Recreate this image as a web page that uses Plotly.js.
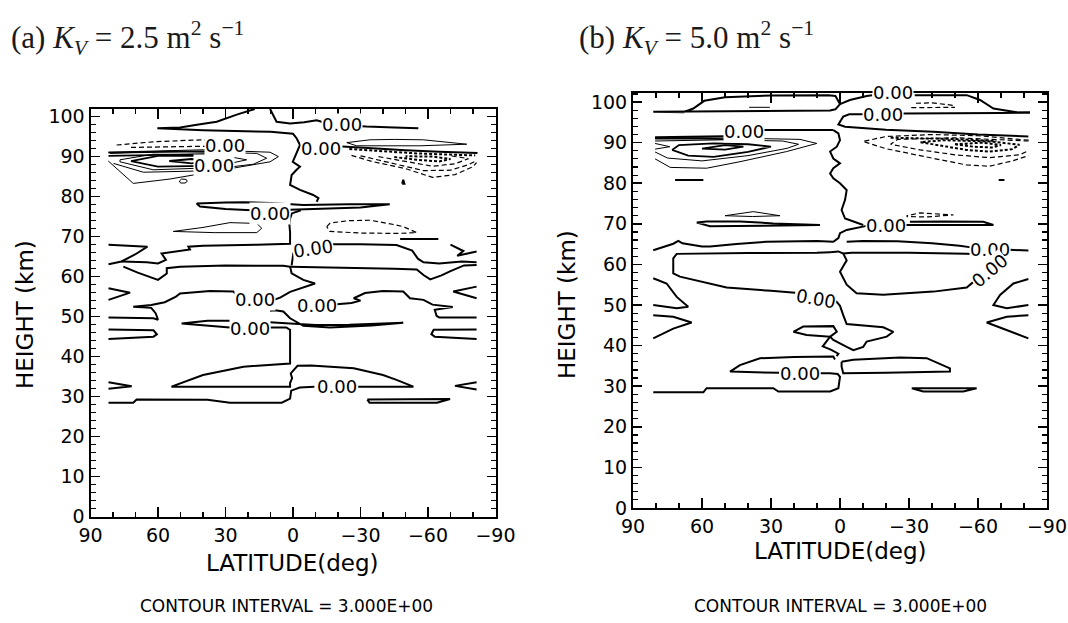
<!DOCTYPE html>
<html><head><meta charset="utf-8">
<script src="https://cdn.plot.ly/plotly-3.0.1.min.js"></script>
<style>html,body{margin:0;padding:0;background:#fff}</style>
</head><body>
<div id="chart" style="width:1068px;height:623px"></div>
<script>
// ---------- tick data ----------
const latTicks = [90, 60, 30, 0, -30, -60, -90];
const heightTicks = [0, 10, 20, 30, 40, 50, 60, 70, 80, 90, 100];

// ---------- panel (a): contour lines [lat, height km] ----------
const aZero = [
  [[82,28.5],[71,28.5],[69.5,29.3],[38,29.2],[28,28.5],[5,28.5],[1.3,29.5],[0.8,31.5],[-3,32.3],[-9.5,32.5]],
  [[-29,32.5],[-53.5,32.5],[-46,34.2],[-40,35.4],[-27,37.1],[-8,37.8],[-2,37.7],[-0.3,36.6],[1,35.8],[0.4,34.6],[1.3,33.4],[1.3,32.5],[20,32.5],[54,32.5],[40,35.4],[22,37.5],[1.3,38.3],[1.3,46.7],[3,47.3],[10,47.3]],
  [[28,47.3],[40,47.8],[49.5,48.3],[38,49.0],[22,49.0],[5,48.4],[-10,47.9],[-25,48.0],[-40,48.4],[-49,48.5],[-35,47.8],[-16.4,47.3],[-4.6,47.7],[1.3,49.6],[4.3,51.3],[8,51.6],[10.2,51.5]],
  [[82,33.6],[71.7,32.6],[82,32.0]],
  [[-81.6,33.6],[-72,32.7],[-81.6,31.8]],
  [[-33,29.3],[-50,29.4],[-69.8,29.4],[-64,28.5],[-34,28.5],[-33,29.3]],
  [[82,46.8],[62,46.6],[60.5,45.6],[62,45.0],[82,44.4]],
  [[-81.6,46.8],[-62.5,46.7],[-61.5,45.6],[-63,45.0],[-81.6,44.4]],
  [[82,49.8],[62,49.6],[60,49.2],[61,50.8],[63,52.2],[71,52.5],[63,52.9],[57,53.6],[52,55.0],[50.2,55.8],[36.9,56.4],[26.5,56.3],[24.5,55.2]],
  [[8.5,54.2],[5.5,54.8],[1.3,56.2],[-3.1,57.1],[-9.8,58.3],[-4.6,59.2],[0.6,60.8],[1.3,62.5]],
  [[-19.5,53.1],[-26,53.4],[-30,54.0],[-27,54.6],[-32,55.9],[-40,56.4],[-49,56.3],[-52,54.6],[-58,54.2],[-62,53],[-71,52.4],[-63,51.7],[-63.8,50.2],[-65,49.8],[-81.6,49.8]],
  [[-81.6,57.5],[-71.2,56.3],[-81.6,54.6]],
  [[82,57.1],[72.4,56.0],[82,54.2]],
  [[82,68.0],[64.7,67.5],[70,65.6],[76.2,63.8],[82,63.1]],
  [[76.2,63.8],[65,63.6],[60,63.3],[56.5,64.2],[58.4,65.8],[52,66.3],[45.8,66.8],[46.5,67.5],[39.9,67.7],[16.1,68.0],[1.3,68.2],[1.3,71],[1.6,73],[1.3,74.5],[0.5,75.8],[-3.5,76.6]],
  [[75.4,62.5],[69,61],[60,59.2],[56.1,60.8],[56.1,62.1],[50.2,62.5],[30,62.8],[4.3,62.7],[1.3,62.5]],
  [[0.6,62.8],[0.3,64.5],[-0.2,66]],
  [[-17.5,68.1],[-30,68.1],[-46,67.9],[-53,66.5],[-55.5,64.5],[-58,63.6],[-65,63.3],[-75,63.8],[-81.6,63.6]],
  [[-70,68.0],[-75.7,66.4],[-73,65.2],[-81.6,66.3]],
  [[1.3,62.5],[-10,62.4],[-30,62.2],[-45,62.0],[-55,61.8],[-58,60.4],[-61,59.3],[-66,60.3],[-70,61.4],[-76,62.8],[-81.6,62.9]],
  [[-47.6,69.4],[-64.6,69.4]],
  [[18.5,76.6],[30,76.9],[41.3,77.5],[42.8,78.3],[30,78.5],[22.1,78.6],[10,78.4],[-4.6,77.9],[-25,78.1],[-43,78.1],[-30,77.3],[-12,76.9],[-4.6,76.7],[1.5,76.7]],
  [[-10.5,78.7],[-11.3,79.6],[-9,80.4],[-3.1,81.7],[1.3,82.9],[0.6,85.4],[-1.6,86.7],[-3.1,87.5],[0.1,88.7],[-1.6,90.8],[-2.4,91.7],[-3.1,92.9],[-1.6,94.6],[0,95.7],[10,96.2],[40,96.6],[60.3,97.1],[50.2,97.3],[42,98],[33.9,98.7],[25,100.5],[19.1,101.6],[17,101.9]],
  [[10.2,101.9],[7.3,98.7],[1.3,98.3],[-5,98.6],[-10.5,99.1],[-13.5,98.6]],
  [[-30,97.6],[-32.7,97.5],[-45,97.3],[-55.7,97.1]],
  [[-22,92.5],[-35,92.0],[-50,91.6],[-65,91.2],[-82,90.9]],
  [[-48.5,83.2],[-49,84.2],[-49.5,83.2],[-48.5,83.2]]
];
const aPos = [
  [[53.2,71.3],[40,72.3],[28,73.5],[16.1,73.3],[13.9,72.1],[16.1,71.0],[35,71.0],[53.2,71.3]],
  [[-23.9,93.5],[-34.2,94.2],[-45,94.3],[-57.9,94.2],[-77.2,93.1],[-56.4,92.7],[-28.3,92.7],[-23.9,93.5]],
  [[82.1,88.9],[71,83.3],[54.7,84.4],[39.9,85.8],[22.1,87.5],[10.2,88.7],[6.5,90],[10.2,91.1],[39.9,91.7],[82.1,91.1]],
  [[79.8,88.3],[66.5,86.1],[42.8,86.4],[17.6,88.1],[11.7,89.6],[16.1,90.8],[54.7,91.4],[81.3,90.8]],
  [[76.9,88.7],[62.1,86.7],[36.9,87.2],[20.6,89.2],[32.4,90.4],[62.1,90.6],[76.9,89.2],[76.9,88.7]],
  [[50.5,83.9],[49.5,84.4],[47.5,84.3],[47,83.8],[48,83.4],[50,83.4],[50.5,83.9]]
];
const aPosThick = [
  [[72,88.9],[60,87.5],[40,87.7],[28,89.2],[40,90.2],[60,90.2],[72,88.9]],
  [[55,88.9],[45,88.3],[38,88.8],[45,89.4],[55,88.9]],
  [[82,91.0],[60,91.2],[40,91.3],[22,91.2]],
  [[82,90.2],[60,90.5],[40,90.6],[30,90.5]]
];
const aNeg = [
  [[-15,72.5],[-16.5,73.4],[-25,74.0],[-34.2,74.1],[-45,73.0],[-49,72.5],[-55,71.0],[-46,70.8],[-30,70.9],[-16.4,71.3],[-15,72.5]],
  [[78.4,92.9],[62.1,93.7],[45,94.1],[39.9,94.2],[28,93.4]],
  [[72,92.3],[55,92.5],[38,92.6]],
  [[-26,90.3],[-35,88.8],[-50,87],[-62,84.8],[-72,85.5],[-80,87.5],[-81.6,88.5]],
  [[-30,90.2],[-45,88.3],[-58,86.5],[-70,86.6],[-78,88.0],[-81.6,89.0]],
  [[-38,90],[-50,88.8],[-62,87.6],[-72,88.2],[-78,89.5],[-70,90.2]]
];
const aNegThick = [
  [[-25,91.9],[-40,91.3],[-55,90.8],[-70,90.5],[-81,90.3]],
  [[-45,89.9],[-55,89.2],[-65,88.8],[-70,89.4],[-62,90.0],[-50,90.1]]
];
const aLabels = [
  [-21.6,98.1,0],[30.2,92.9,0],[35.1,87.9,0],[-12.3,92.1,0],[10.2,75.8,0],
  [-9.0,67.1,-8],[16.9,54.2,0],[-10.5,52.9,0],[19.1,47.1,0],[-19.4,32.5,0]
];

// ---------- panel (b): contour lines [lat, height km] ----------
const bZero = [
  [[81.2,28.5],[59.4,28.5],[58,29.5],[29,29.5],[26.8,28.7],[4.3,28.7],[0.7,29.5],[0,32.3],[1,33.0],[4.3,33.2],[8.5,33.2]],
  [[26.5,33.3],[40,33.5],[47.8,33.6],[43.5,35.2],[34.8,36.9],[20,37.2],[2.9,37.3],[2.2,36.6]],
  [[-0.7,36.0],[-5.8,36.5],[-26.1,37.1],[-37.7,36.9],[-47.8,34.4],[-47.8,33.6],[-20,33.3],[-1.4,33.2],[-0.7,34.8],[-0.7,36.0]],
  [[20.3,43.4],[16,44.7],[2.9,44.8],[1.4,43.4],[4.3,42.2],[14.5,42.6],[20.3,43.4]],
  [[4.3,42.2],[5.5,41.2],[7.5,39.8],[4,39.0],[0.7,38.0],[1.5,37.4]],
  [[1.8,51.0],[0,49.8],[-1.4,47.5],[-2.9,45.3],[-18.8,44.5],[-23.2,43.4],[-20.3,42.2],[-11.6,41.0],[-10.1,39.7],[-5.8,38.9],[-2.9,39.7],[2.9,41.4],[4.3,42.2]],
  [[81.2,56.6],[75.4,55.3],[71,52],[66,49.6],[71,49.2],[81.2,50]],
  [[81.2,47.5],[72.5,47.1],[64.5,45.7],[72.5,44.2],[81.2,41.8]],
  [[-81.9,56.4],[-75.4,55.3],[-69.6,52.5],[-66.7,50],[-72.5,49.2],[-81.9,50]],
  [[-81.9,47.5],[-72.5,47.1],[-63.8,45.7],[-72.5,43.9],[-81.9,41.8]],
  [[4.3,63.0],[10,62.9],[40,62.8],[71,62.6],[72.5,61.5],[72.5,57.8],[69.6,57.0],[56.5,55.3],[49.3,54.3],[30,53.5],[19.5,53.0]],
  [[4.3,63.0],[0.7,63.2],[-1.4,62.7],[-2.9,61],[0,58.2],[-2.9,55],[-7.2,52.9],[-18.8,52.5],[-40.6,53.3],[-55.1,54.3],[-58,55.7]],
  [[-71.5,61.3],[-68,62.3],[-55,62.6],[-30,62.9],[-5,62.9],[-1.4,62.7]],
  [[81.2,63.5],[75,64.7],[72.5,65.1],[70.3,65.8],[68.5,65.2],[60,64.4],[56.5,64.4],[45,65.0],[32,65.6],[10,65.8],[2.9,65.6],[0.7,66.5],[0,67.7],[-2.9,68.5],[-8,69.2],[-11.5,69.5]],
  [[2.9,93.1],[0.7,92.3],[0,90.6],[1.4,89],[4.3,87.8],[2.9,86.1],[0,84.9],[2.9,83.7],[4.3,82.4],[2.9,81.2],[0,80],[-2.9,78.3],[-2.2,75.9],[-0.7,73.4],[-2.2,71.3],[-5.8,70.5],[-10.1,69.7]],
  [[-28.5,69.7],[-45,69.7],[-62,69.7],[-66.7,69.7],[-62.3,70.5],[-45,70.6],[-30.4,70.5]],
  [[-2.9,65.6],[-10,65.8],[-25,65.7],[-40,65.2],[-52,64.6],[-57,64.2]],
  [[-74,63.6],[-76.1,63.5],[-81.9,63.4]],
  [[62.3,70.3],[58,70.6],[43.5,70.6],[29,70.1],[8.7,69.7],[29,69.6],[56.5,69.4],[62.3,70.3]],
  [[-31.2,29.5],[-45,29.5],[-59.4,29.5],[-53.6,28.7],[-36.2,28.7],[-31.2,29.5]],
  [[81.2,97.6],[68,97.5],[63.8,98.4],[59,100.3],[50,101.2],[30,101.6],[5,101.7],[2,101.5],[0,99.5],[2,98.2],[4.3,97.9],[40,97.8],[81.2,97.6]],
  [[0,99.5],[-4.3,100.5],[-11.6,101.5],[-14,101.7]],
  [[-32.5,101.7],[-55.1,101.7],[-60.9,100.5],[-66.7,98.4],[-76.8,97.5],[-82.6,97.4]],
  [[-0.5,95.6],[-1.4,96.4],[-4,97.0],[-10,97.0]],
  [[-27.5,97.2],[-33,97.2],[-50,97.2],[-70,97.3],[-82.6,97.4]],
  [[-0.5,95.6],[0.7,94.5],[-2.2,93.9],[-20,93.2],[-40.6,92.7],[-60,92.0],[-81.9,91.5]],
  [[33.5,93.1],[15,93.1],[2.9,93.1]],
  [[50.5,91.6],[65,91.4],[80.4,91.3]],
  [[71.7,80.8],[59.4,80.8]],
  [[-69,80.8],[-71.5,80.8]]
];
const bPos = [
  [[50,72],[37.7,73],[26.1,72],[38,71.8],[50,72]],
  [[39.5,98.7],[30.5,98.7]],
  [[80.4,86.0],[73.8,83.9],[58,83.7],[43.5,85.3],[23.2,87.8],[10.1,89.8],[17.4,90.8],[43.5,91.1],[70,91.2],[80.4,91.1]],
  [[80.4,87.7],[75,86.2],[60,85.5],[40,86.8],[23,88.6],[18,89.6],[25,90.4],[50,90.7],[80.4,90.4]],
  [[80.4,89.8],[74,89.0],[80.4,88.4]]
];
const bPosThick = [
  [[73,88.2],[66,86.8],[55,86.5],[40,87.7],[30,89.0],[40,89.6],[55,89.8],[70,89.4],[73,88.2]],
  [[60,88.5],[50,88.3],[42,89.0],[50,89.4],[60,88.5]],
  [[80.4,91.0],[60,91.0],[45,90.8],[35,90.6]]
];
const bNeg = [
  [[-27.5,71.8],[-34.8,72.7],[-49.3,72.2],[-38,71.7],[-27.5,71.8]],
  [[-33,99.7],[-40,99.8],[-49,99.2]],
  [[-31,98.6],[-50,98.7]],
  [[-82,90.6],[-60,91.7],[-40,92.0],[-20,91.5],[-10,90.3],[-20,88.5],[-40,86.2],[-55,84.5],[-65,84.2],[-75,85.5],[-82,86.8]],
  [[-82,90.4],[-50,91.2],[-25,90.8],[-22,89.6],[-35,88.2],[-50,87.0],[-65,86.3],[-78,87.0],[-82,88]]
];
const bNegThick = [
  [[-35,90.1],[-45,89.2],[-55,88.2],[-65,87.8],[-75,88.4],[-78,89.5],[-65,90.3],[-45,90.6],[-35,90.1]],
  [[-50,89.6],[-58,89.0],[-66,88.8],[-70,89.4],[-62,90.0],[-50,89.6]],
  [[-22,91.2],[-50,90.9],[-68,90.4]]
];
const bLabels = [
  [-23.2,102.3,0],[-18.8,96.9,0],[41.7,92.7,0],[-20,69.5,0],[-65,63.7,0],
  [-65.2,58.4,-40],[10.4,51.6,10],[17.4,33.2,0]
];

// ---------- build ----------
function flat(lines){
  const x=[], y=[];
  lines.forEach(l=>{ l.forEach(p=>{x.push(p[0]); y.push(p[1]);}); x.push(null); y.push(null); });
  return {x, y};
}
const styles = {
  zero:{width:2, dash:'solid'},
  pos:{width:1, dash:'solid'},
  posThick:{width:1.8, dash:'solid'},
  neg:{width:1.2, dash:'5px,3px'},
  negThick:{width:2, dash:'3px,2px'}
};
const traces = [];
function addSet(lines, style, xa, ya){
  const d = flat(lines);
  traces.push({type:'scatter', mode:'lines', x:d.x, y:d.y, xaxis:xa, yaxis:ya,
    line:{color:'#000', width:styles[style].width, dash:styles[style].dash},
    hoverinfo:'skip', showlegend:false, connectgaps:false});
}
addSet(aZero,'zero','x','y'); addSet(aPos,'pos','x','y'); addSet(aPosThick,'posThick','x','y');
addSet(aNeg,'neg','x','y'); addSet(aNegThick,'negThick','x','y');
addSet(bZero,'zero','x2','y2'); addSet(bPos,'pos','x2','y2'); addSet(bPosThick,'posThick','x2','y2');
addSet(bNeg,'neg','x2','y2'); addSet(bNegThick,'negThick','x2','y2');

const W=1068, H=623;
const px = v => v/W, py = v => 1 - v/H;
const tickFont = {family:'DejaVu Sans', size:19, color:'#000'};
function xAx(dom, anchor){
  return {domain:dom, anchor:anchor, range:[90,-90], autorange:false, tickmode:'array', tickvals:latTicks,
    ticks:'inside', ticklen:10, tickwidth:1.5, tickcolor:'#000', showline:true, linewidth:2, linecolor:'#000',
    mirror:'ticks', showgrid:false, zeroline:false, tickfont:tickFont,
    minor:{tickmode:'linear', tick0:0, dtick:10, ticks:'inside', ticklen:5, tickwidth:1.5, tickcolor:'#000', showgrid:false}};
}
function yAx(dom, anchor, top){
  return {domain:dom, anchor:anchor, range:[0,top], autorange:false, tickmode:'array', tickvals:heightTicks,
    ticks:'inside', ticklen:9, tickwidth:1.5, tickcolor:'#000', showline:true, linewidth:2, linecolor:'#000',
    mirror:'ticks', showgrid:false, zeroline:false, tickfont:tickFont,
    minor:{tickmode:'linear', tick0:0, dtick:2, ticks:'inside', ticklen:5, tickwidth:1.2, tickcolor:'#000', showgrid:false}};
}

const annotations = [];
function lab(list, xr, yr){
  list.forEach(l=>annotations.push({xref:xr, yref:yr, x:l[0], y:l[1], text:'0.00', showarrow:false,
    textangle:l[2], bgcolor:'#fff', borderpad:0, font:{family:'DejaVu Sans', size:18, color:'#000'}}));
}
lab(aLabels,'x','y'); lab(bLabels,'x2','y2');
function txt(t, x, y, opts){
  annotations.push(Object.assign({xref:'paper', yref:'paper', x:px(x), y:py(y), text:t, showarrow:false,
    xanchor:'center', yanchor:'middle', font:{family:'DejaVu Sans', size:23, color:'#000'}}, opts||{}));
}
const serif = {family:'Liberation Serif', size:31, color:'#1a1a1a'};
txt('(a) <i>K</i><sub><i>V</i></sub> = 2.5 m<sup>2</sup> s<sup>−1</sup>', 9, 38, {xanchor:'left', font:serif});
txt('(b) <i>K</i><sub><i>V</i></sub> = 5.0 m<sup>2</sup> s<sup>−1</sup>', 577, 38, {xanchor:'left', font:serif});
txt('HEIGHT (km)', 25, 315, {textangle:-90});
txt('HEIGHT (km)', 567, 305, {textangle:-90});
txt('LATITUDE(deg)', 292, 563);
txt('LATITUDE(deg)', 840, 551);
txt('CONTOUR INTERVAL = 3.000E+00', 286, 606, {font:{family:'DejaVu Sans', size:17, color:'#000'}});
txt('CONTOUR INTERVAL = 3.000E+00', 840, 606, {font:{family:'DejaVu Sans', size:17, color:'#000'}});

const layout = {
  width:W, height:H, margin:{l:0,r:0,t:0,b:0}, paper_bgcolor:'#fff', plot_bgcolor:'#fff',
  showlegend:false,
  xaxis: xAx([px(90.5), px(495.5)], 'y'),
  yaxis: yAx([py(516.7), py(109)], 'x', 101.9),
  xaxis2: xAx([px(633), px(1047)], 'y2'),
  yaxis2: yAx([py(508), py(92.7)], 'x2', 102.3),
  annotations: annotations
};
Plotly.newPlot('chart', traces, layout, {staticPlot:true, displayModeBar:false});
</script>
</body></html>
